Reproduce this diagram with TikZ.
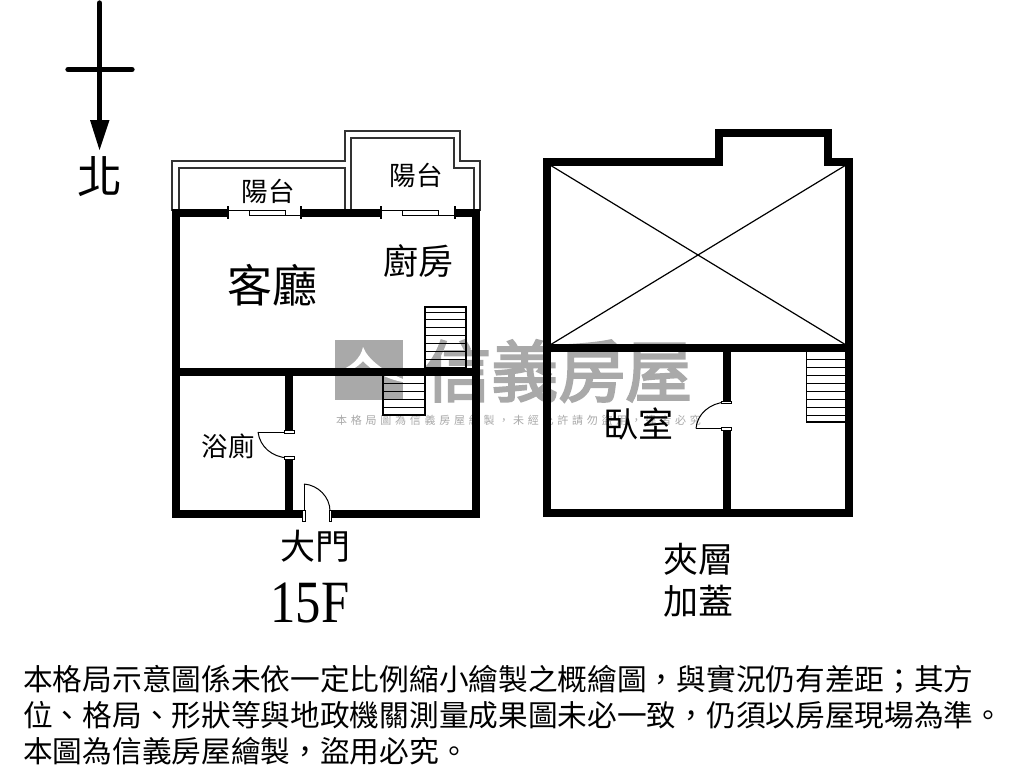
\documentclass[tikz,border=0pt]{standalone}
\usepackage{fontspec}
\setmainfont{Liberation Serif}
\newfontfamily\cjk{Noto Sans CJK TC}
\newcommand{\fwc}{\char"FF0C\relax}
\newcommand{\fws}{\char"FF1B\relax}
\definecolor{wm}{HTML}{A9A9A9}
\definecolor{thinline}{HTML}{333333}
\tikzset{
  wall/.style={line width=8pt,black,line cap=butt},
  balc/.style={line width=1.5pt,thinline,line join=miter},
  stairbox/.style={line width=1.6pt,black},
  tread/.style={line width=1pt,black},
  winline/.style={line width=1pt,black},
  wintick/.style={line width=1.6pt,black},
  leaf/.style={line width=1pt,black},
  doorcap/.style={draw=black,fill=white,line width=.8pt},
  lab/.style={inner sep=0pt,font=\cjk,black},
  foot/.style={inner sep=0pt,anchor=west,font=\cjk\fontsize{29.7}{30}\selectfont,black}
}
\begin{document}
\begin{tikzpicture}[x=1pt,y=-1pt]
\useasboundingbox (0,0) rectangle (1024,768);
\fill[white] (0,0) rectangle (1024,768);
% watermark
\fill[wm] (335,340) rectangle (403,400);
\fill[white] (363,347) .. controls (361,358) and (351,368) .. (335,372) -- (335,375) .. controls (348,373) and (358,367) .. (363,361) .. controls (370,369) and (385,379) .. (403,382) -- (403,379) .. controls (385,372) and (368,360) .. (363,347) -- cycle;
\node[inner sep=0pt,anchor=west,text=wm] (wmmain) at (424,371) {\cjk\addfontfeature{FakeBold=3}\fontsize{67}{67}\selectfont 信義房屋};
\node[inner sep=0pt,anchor=west,text=wm] (wmsub) at (336,420) {\cjk\fontsize{11}{11}\selectfont\addfontfeature{LetterSpace=34} 本格局圖為信義房屋繪製\fwc 未經允許請勿盜用\fwc 違者必究};
% north arrow
\draw[line width=5.3pt,black,line cap=round] (99.5,3) -- (99.5,124);
\fill[black] (90,120) -- (109.5,120) -- (99.5,150) -- cycle;
\draw[line width=5.3pt,black,line cap=round] (68,69.5) -- (132,69.5);
\node[lab,font=\cjk\fontsize{45}{45}\selectfont] (north) at (100,177) {北};
% left plan balconies
\draw[balc] (172,211) -- (172,161) -- (345,161) -- (345,131) -- (460,131) -- (460,161) -- (480,161) -- (480,211);
\draw[balc] (179,211) -- (179,168) -- (345,168) -- (345,211);
\draw[balc] (351,211) -- (351,138) -- (454,138) -- (454,168) -- (474,168) -- (474,211);
% left plan walls
\draw[wall] (172,213) -- (228,213);
\draw[wall] (301,213) -- (381,213);
\draw[wall] (455,213) -- (480,213);
\draw[wall] (176,209) -- (176,518);
\draw[wall] (476,209) -- (476,518);
\draw[wall] (172,372) -- (480,372);
\draw[wall] (172,514) -- (304,514);
\draw[wall] (330,514) -- (480,514);
\draw[wall] (289,368) -- (289,431);
\draw[wall] (289,458) -- (289,514);
% windows
\draw[winline] (228,210.5) -- (285,210.5) (249,215) -- (301,215);
\draw[winline,fill=white] (249,210.5) rectangle (285,215);
\draw[wintick] (228,206) -- (228,219) (301,206) -- (301,219);
\draw[winline] (381,210.5) -- (438,210.5) (402,215) -- (455,215);
\draw[winline,fill=white] (402,210.5) rectangle (438,215);
\draw[wintick] (381,206) -- (381,219) (455,206) -- (455,219);
% left plan stairs
\draw[stairbox] (425,307) rectangle (466,371);
\foreach \y in {312,319.5,327.5,335.5,343.5,351.5,359.5,367.5}{\draw[tread] (425,\y) -- (466,\y);}
\draw[stairbox] (383,375) rectangle (425,415);
\foreach \y in {383.5,391.5,399.5,407.5}{\draw[tread] (383,\y) -- (425,\y);}
% bath door
\draw[leaf] (258,432) -- (288,432);
\draw[leaf] (258,432) .. controls (260,447) and (272,457) .. (288,458);
\draw[doorcap] (284,430.5) rectangle (294,433);
\draw[doorcap] (284,456.5) rectangle (294,459);
% main door
\draw[leaf] (304,511) -- (304,484);
\draw[leaf] (304,484) .. controls (318,485) and (330,497) .. (330,511);
\draw[doorcap] (302.5,510) rectangle (305,521);
\draw[doorcap] (329,510) rectangle (331.5,521);
% right plan
\draw[line width=1.2pt,black] (550,165) -- (846,345) (846,165) -- (550,345);
\draw[wall,line join=miter] (546.7,517) -- (546.7,161.5) -- (719,161.5) -- (719,132.7) -- (827.7,132.7) -- (827.7,161.5) -- (848.7,161.5) -- (848.7,517);
\draw[wall] (543,347.5) -- (852.7,347.5);
\draw[wall] (543,513) -- (852.7,513);
\draw[wall] (726.5,345) -- (726.5,402);
\draw[wall] (726.5,429) -- (726.5,513);
\draw[stairbox] (806.5,352) -- (806.5,422) -- (845,422);
\foreach \y in {359.5,367.5,375.5,383.5,391.5,399.5,407.5,415.5}{\draw[tread] (806.5,\y) -- (845,\y);}
% bedroom door
\draw[leaf] (696,428.5) -- (726,428.5);
\draw[leaf] (696,428.5) .. controls (697,414) and (710,403) .. (726,402);
\draw[doorcap] (721,401) rectangle (731.5,403.5);
\draw[doorcap] (721,427.5) rectangle (731.5,430);
% labels
\node[lab,font=\cjk\fontsize{26.5}{26}\selectfont] (bal1) at (268,191) {陽台};
\node[lab,font=\cjk\fontsize{26.5}{26}\selectfont] (bal2) at (416,175) {陽台};
\node[lab,font=\cjk\fontsize{45}{45}\selectfont] (living) at (272,285) {客廳};
\node[lab,font=\cjk\fontsize{35}{35}\selectfont] (kitchen) at (418,261) {廚房};
\node[lab,font=\cjk\fontsize{26.5}{26}\selectfont] (bath) at (228,446) {浴廁};
\node[lab,font=\cjk\fontsize{35}{35}\selectfont] (door) at (315,546) {大門};
\node[inner sep=0pt,font=\fontsize{60}{60}\selectfont] (floor) at (310,603) {\scalebox{.845}[1]{15F}};
\node[lab,font=\cjk\fontsize{35}{35}\selectfont] (bed) at (638,424) {臥室};
\node[lab,font=\cjk\fontsize{35}{35}\selectfont] (mezz) at (698,559) {夾層};
\node[lab,font=\cjk\fontsize{35}{35}\selectfont] (add) at (698,601) {加蓋};
% footer
\node[foot] (f1) at (23,679) {本格局示意圖係未依一定比例縮小繪製之概繪圖\fwc 與實況仍有差距\fws 其方};
\node[foot] (f2) at (23,715) {位、格局、形狀等與地政機關測量成果圖未必一致\fwc 仍須以房屋現場為準。};
\node[foot] (f3) at (23,751) {本圖為信義房屋繪製\fwc 盜用必究。};
\end{tikzpicture}
\end{document}
